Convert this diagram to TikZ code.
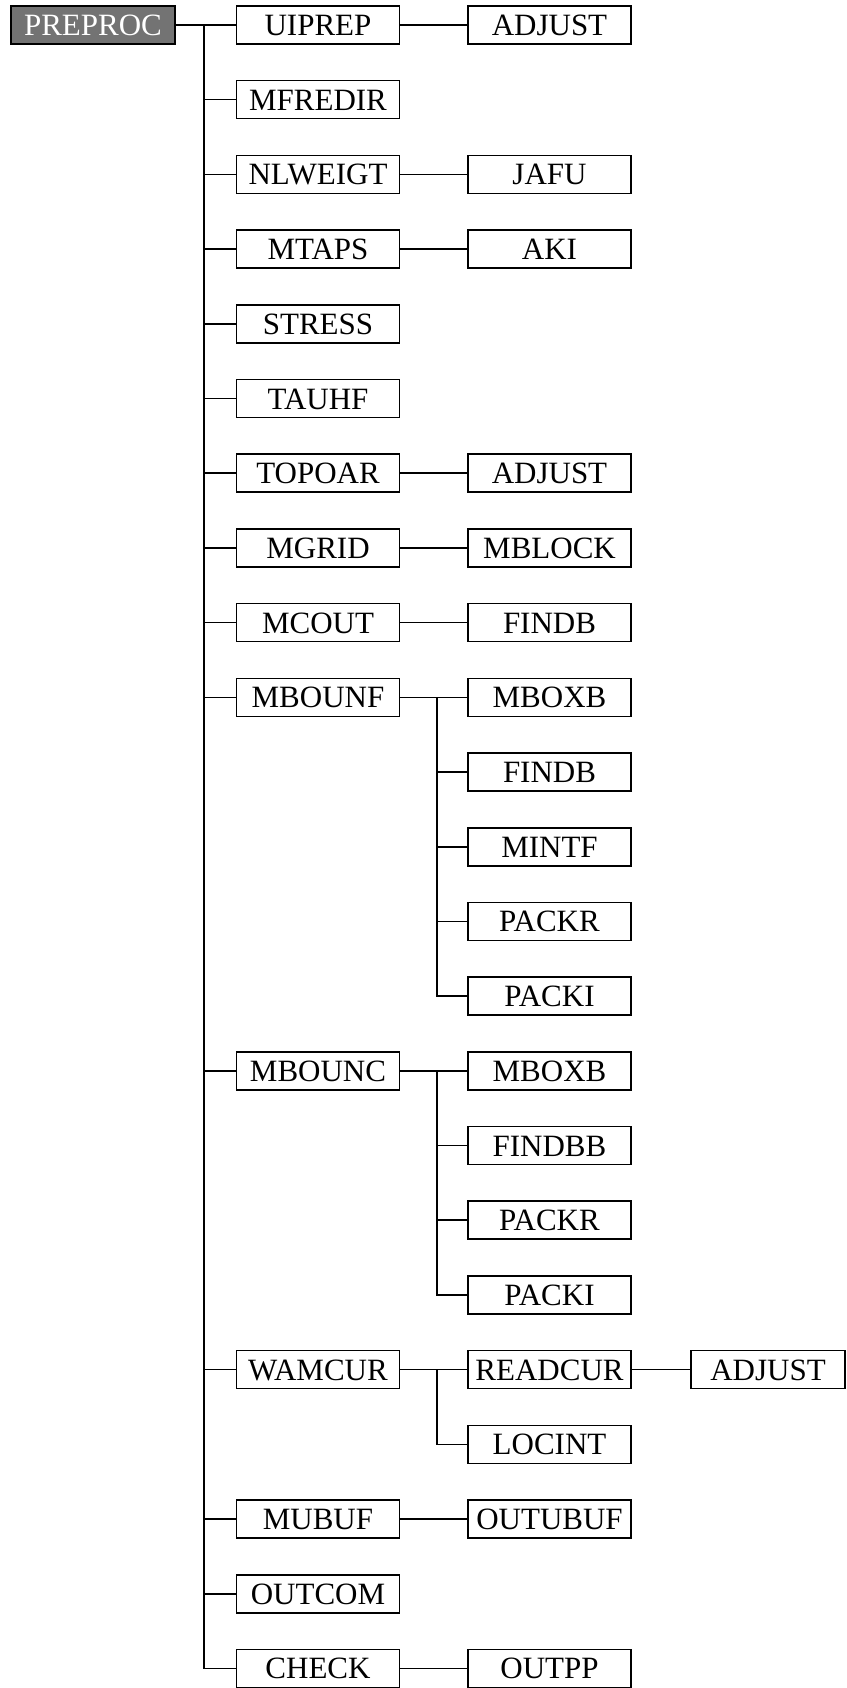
\documentclass[tikz,border=0pt]{standalone}
\usepackage{fontspec}
\setmainfont{Liberation Serif}
\begin{document}
\begin{tikzpicture}[x=1pt,y=-1pt,
  box/.style={draw, line width=1.6pt, fill=white, minimum width=163pt, minimum height=38pt,
    inner sep=0pt, text height=21pt, text depth=0pt, font=\fontsize{31}{31}\selectfont},
  rootbox/.style={box, fill=black!55, text=white},
  conn/.style={line width=1.6pt}]
\useasboundingbox (0,0) rectangle (846,1688);
\def\rs{74.7}
% root
\node[rootbox, minimum width=164pt] (root) at (93,25) {PREPROC};
% column 1
\foreach \n/\t/\i in {a/UIPREP/0, b/MFREDIR/1, c/NLWEIGT/2, d/MTAPS/3, e/STRESS/4, f/TAUHF/5,
  g/TOPOAR/6, h/MGRID/7, k/MCOUT/8, l/MBOUNF/9, m/MBOUNC/14, n/WAMCUR/18, o/MUBUF/20,
  p/OUTCOM/21, q/CHECK/22}{
  \node[box] (\n) at (318, 25+\i*\rs) {\t};
}
% column 2
\foreach \n/\t/\i in {a2/ADJUST/0, c2/JAFU/2, d2/AKI/3, g2/ADJUST/6, h2/MBLOCK/7, k2/FINDB/8,
  l1/MBOXB/9, l2/FINDB/10, l3/MINTF/11, l4/PACKR/12, l5/PACKI/13,
  m1/MBOXB/14, m2/FINDBB/15, m3/PACKR/16, m4/PACKI/17,
  n1/READCUR/18, n2/LOCINT/19, o2/OUTUBUF/20, q2/OUTPP/22}{
  \node[box] (\n) at (549.5, 25+\i*\rs) {\t};
}
% column 3
\node[box, minimum width=154pt] (n1a) at (768, 25+18*\rs) {ADJUST};
% trunk
\coordinate (t0) at (204,25);
\coordinate (tq) at (204,{25+22*\rs});
\draw[conn] (root.east) -- (a.west);
\draw[conn] (t0) -- (tq) -- (q.west);
\foreach \n in {b,c,d,e,f,g,h,k,l,m,n,o,p}{
  \draw[conn] (\n.west) -- (\n.west -| t0);
}
% single children
\foreach \p/\c in {a/a2, c/c2, d/d2, g/g2, h/h2, k/k2, o/o2, q/q2, n1/n1a}{
  \draw[conn] (\p.east) -- (\c.west);
}
% multi children
\coordinate (s) at (437,0);
\draw[conn] (l.east) -- (l1.west);
\draw[conn] (l1.west -| s) -- (l5.west -| s) -- (l5.west);
\foreach \c in {l2,l3,l4}{\draw[conn] (\c.west -| s) -- (\c.west);}
\draw[conn] (m.east) -- (m1.west);
\draw[conn] (m1.west -| s) -- (m4.west -| s) -- (m4.west);
\foreach \c in {m2,m3}{\draw[conn] (\c.west -| s) -- (\c.west);}
\draw[conn] (n.east) -- (n1.west);
\draw[conn] (n1.west -| s) -- (n2.west -| s) -- (n2.west);
\end{tikzpicture}
\end{document}
